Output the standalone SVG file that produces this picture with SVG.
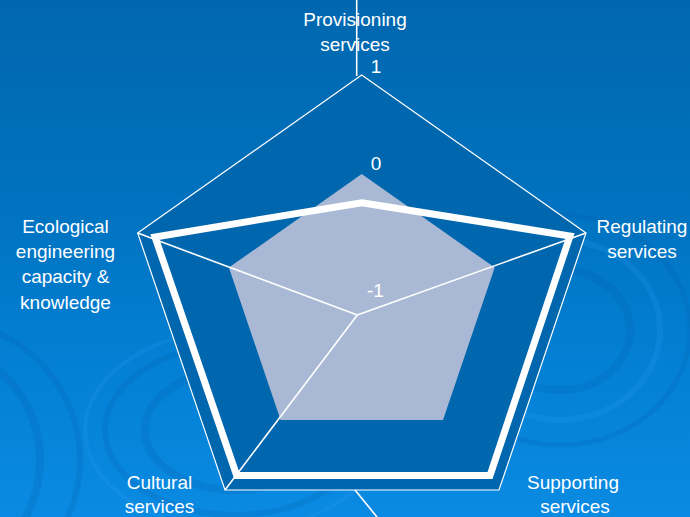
<svg xmlns="http://www.w3.org/2000/svg" width="690" height="517" viewBox="0 0 690 517">
  <defs>
    <linearGradient id="bg" x1="0" y1="0" x2="0" y2="1">
      <stop offset="0" stop-color="#0067AF"/>
      <stop offset="0.4" stop-color="#0072BF"/>
      <stop offset="0.7" stop-color="#0380D4"/>
      <stop offset="1" stop-color="#0A8AE2"/>
    </linearGradient>
    <style>
      .lbl { font-family: "Liberation Sans", Arial, sans-serif; font-size: 19px; fill: #FFFFFF; text-anchor: middle; }
      .thin { fill: none; stroke: #FFFFFF; stroke-width: 1.2; }
      .spoke { fill: none; stroke: #FFFFFF; stroke-width: 1.6; }
      .ripple { fill: none; stroke: #0660B0; stroke-opacity: 0.22; }
      .rippleL { fill: none; stroke: #2A9CF0; stroke-opacity: 0.22; }
    </style>
  </defs>

  <rect id="background" x="0" y="0" width="690" height="517" fill="url(#bg)"/>

  <g id="ripples">
    <ellipse class="ripple" cx="235" cy="430" rx="90" ry="60" stroke-width="8"/>
    <ellipse class="ripple" cx="235" cy="430" rx="130" ry="85" stroke-width="6"/>
    <ellipse class="rippleL" cx="235" cy="430" rx="150" ry="100" stroke-width="4"/>
    <ellipse class="ripple" cx="-60" cy="460" rx="100" ry="110" stroke-width="8"/>
    <ellipse class="ripple" cx="-60" cy="460" rx="140" ry="140" stroke-width="6"/>
    <ellipse class="ripple" cx="560" cy="330" rx="70" ry="60" stroke-width="8"/>
    <ellipse class="rippleL" cx="560" cy="330" rx="100" ry="90" stroke-width="6"/>
    <ellipse class="ripple" cx="560" cy="330" rx="130" ry="115" stroke-width="5"/>
  </g>

  <g id="chart">
    <polygon id="outer" points="361.7,75 586,233 499,490 225,490 137.7,233" class="thin" style="fill:#0066AE"/>
    <polygon id="zero-area" points="361.7,174 494.7,267.6 443,420 280.6,420 228.9,267.6" fill="#A9B9D5"/>
  </g>

  <g id="connectors">
    <line class="spoke" x1="357.3" y1="315" x2="137.7" y2="233"/>
    <line class="spoke" x1="357.3" y1="315" x2="586" y2="233"/>
    <line class="spoke" x1="357.3" y1="315" x2="225" y2="490"/>
    <line class="spoke" x1="356.7" y1="0" x2="356.7" y2="76"/>
    <line class="spoke" x1="355" y1="490" x2="377" y2="517"/>
  </g>

  <g id="series">
    <polygon points="361.7,202.7 570,236 490,475.5 236.7,475.5 155,237" fill="none" stroke="#FFFFFF" stroke-width="7" stroke-linejoin="miter"/>
  </g>

  <g id="axis-labels">
    <text class="lbl" x="376" y="73">1</text>
    <text class="lbl" x="376" y="170">0</text>
    <text class="lbl" x="375.5" y="297">-1</text>
  </g>

  <g id="node-provisioning">
    <text class="lbl" x="355" y="26">Provisioning</text>
    <text class="lbl" x="355" y="51">services</text>
  </g>
  <g id="node-regulating">
    <text class="lbl" x="642" y="233">Regulating</text>
    <text class="lbl" x="642" y="258">services</text>
  </g>
  <g id="node-supporting">
    <text class="lbl" x="573" y="489">Supporting</text>
    <text class="lbl" x="575" y="513">services</text>
  </g>
  <g id="node-cultural">
    <text class="lbl" x="159.5" y="489">Cultural</text>
    <text class="lbl" x="159.5" y="513">services</text>
  </g>
  <g id="node-ecological">
    <text class="lbl" x="65.5" y="232.5">Ecological</text>
    <text class="lbl" x="65.5" y="258">engineering</text>
    <text class="lbl" x="65.5" y="283">capacity &amp;</text>
    <text class="lbl" x="65.5" y="309">knowledge</text>
  </g>
</svg>
